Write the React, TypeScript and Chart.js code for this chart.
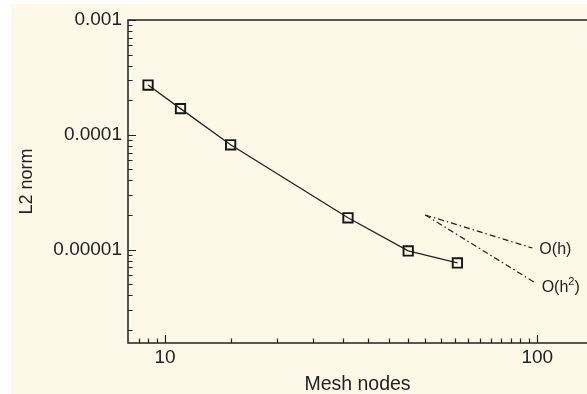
import { useEffect, useRef } from "react";
import { Chart, registerables } from "chart.js";

Chart.register(...registerables);

// Convergence study: L2 error against mesh node count
const meshNodes = [9, 11, 15, 31, 45, 61];
const l2Norm = [2.71e-4, 1.69e-4, 8.17e-5, 1.89e-5, 9.72e-6, 7.64e-6];

// Reference slopes
const orderOneX = [50, 97];
const orderOneY = [2.0e-5, 1.03e-5];
const orderTwoX = [50, 99];
const orderTwoY = [2.0e-5, 5.1e-6];
const slopeLabels = ["O(h)", "O(h", "2", ")"];

// Axis ticks
const xTickValues = [10, 100];
const xTickLabels = ["10", "100"];
const yTickValues = [1e-5, 1e-4, 1e-3];
const yTickLabels = ["0.00001", "0.0001", "0.001"];
const xMinorTicks = [8.5, 9, 9.5, 15, 20, 25, 30, 35, 40, 45, 50, 55, 60, 65, 70, 75, 80, 85, 90, 95];
const yMinorTicks = [
  2e-6, 3e-6, 4e-6, 5e-6, 6e-6, 7e-6, 8e-6, 9e-6,
  2e-5, 3e-5, 4e-5, 5e-5, 6e-5, 7e-5, 8e-5, 9e-5,
  2e-4, 3e-4, 4e-4, 5e-4, 6e-4, 7e-4, 8e-4, 9e-4,
];

const INK = "#222222";
const FONT = "'Liberation Sans', Arial, Helvetica, sans-serif";

const axisDecor = {
  id: "axisDecor",
  beforeDatasetsDraw(chart: any) {
    const { ctx, chartArea: a, scales } = chart;
    const x = scales.x;
    const y = scales.y;
    ctx.save();
    ctx.strokeStyle = INK;
    ctx.lineWidth = 1.5;
    ctx.beginPath();
    ctx.moveTo(a.right + 2, a.top);
    ctx.lineTo(a.left, a.top);
    ctx.lineTo(a.left, a.bottom);
    ctx.lineTo(a.right + 2, a.bottom);
    ctx.stroke();

    ctx.lineWidth = 1.2;
    ctx.beginPath();
    xTickValues.forEach((v) => {
      const px = Math.round(x.getPixelForValue(v)) + 0.5;
      ctx.moveTo(px, a.bottom);
      ctx.lineTo(px, a.bottom - 8);
    });
    xMinorTicks.forEach((v) => {
      const px = Math.round(x.getPixelForValue(v)) + 0.5;
      ctx.moveTo(px, a.bottom);
      ctx.lineTo(px, a.bottom - 4.5);
    });
    yTickValues.forEach((v) => {
      const py = Math.round(y.getPixelForValue(v)) + 0.5;
      ctx.moveTo(a.left, py);
      ctx.lineTo(a.left + 8, py);
    });
    yMinorTicks.forEach((v) => {
      const py = Math.round(y.getPixelForValue(v)) + 0.5;
      ctx.moveTo(a.left, py);
      ctx.lineTo(a.left + 4.5, py);
    });
    ctx.stroke();
    ctx.restore();
  },
  afterDatasetsDraw(chart: any) {
    const { ctx, scales } = chart;
    const x = scales.x;
    const y = scales.y;
    ctx.save();
    ctx.fillStyle = INK;
    ctx.textBaseline = "middle";
    ctx.textAlign = "left";
    const size = 16;
    ctx.font = `${size}px ${FONT}`;

    const p1x = x.getPixelForValue(orderOneX[1]);
    const p1y = y.getPixelForValue(orderOneY[1]);
    ctx.fillText(slopeLabels[0], p1x + 7, p1y + 2);

    const p2x = x.getPixelForValue(orderTwoX[1]);
    const p2y = y.getPixelForValue(orderTwoY[1]);
    let tx = p2x + 6;
    const ty = p2y + 5;
    ctx.fillText(slopeLabels[1], tx, ty);
    tx += ctx.measureText(slopeLabels[1]).width;
    ctx.font = `${Math.round(size * 0.7)}px ${FONT}`;
    ctx.fillText(slopeLabels[2], tx, ty - 6);
    tx += ctx.measureText(slopeLabels[2]).width;
    ctx.font = `${size}px ${FONT}`;
    ctx.fillText(slopeLabels[3], tx, ty);
    ctx.restore();
  },
};

export default function App() {
  const canvasRef = useRef<HTMLCanvasElement | null>(null);

  useEffect(() => {
    const canvas = canvasRef.current;
    if (!canvas) return;
    const dash = [6, 3, 1.5, 3];
    const chart = new Chart(canvas, {
      type: "scatter",
      data: {
        datasets: [
          {
            data: meshNodes.map((n, i) => ({ x: n, y: l2Norm[i] })),
            showLine: true,
            borderColor: INK,
            borderWidth: 1.3,
            pointStyle: "rect",
            pointRadius: 6.6,
            pointBorderWidth: 1.9,
            pointBorderColor: "#151515",
            pointBackgroundColor: "rgba(0,0,0,0)",
          },
          {
            data: orderOneX.map((n, i) => ({ x: n, y: orderOneY[i] })),
            showLine: true,
            borderColor: INK,
            borderWidth: 1.2,
            borderDash: dash,
            pointRadius: 0,
          },
          {
            data: orderTwoX.map((n, i) => ({ x: n, y: orderTwoY[i] })),
            showLine: true,
            borderColor: INK,
            borderWidth: 1.2,
            borderDash: dash,
            pointRadius: 0,
          },
        ],
      },
      options: {
        responsive: false,
        animation: false,
        devicePixelRatio: 1,
        layout: { autoPadding: false, padding: { top: 16, right: 0, left: 0, bottom: 0 } },
        plugins: {
          legend: { display: false },
          tooltip: { enabled: false },
        },
        scales: {
          x: {
            type: "logarithmic",
            position: "bottom",
            min: 7.95,
            max: 136,
            grid: { display: false, drawTicks: false },
            border: { display: false },
            afterBuildTicks: (scale: any) => {
              scale.ticks = xTickValues.map((v) => ({ value: v }));
            },
            afterFit: (scale: any) => {
              scale.height = 51;
              scale.paddingLeft = 0;
              scale.paddingRight = 0;
            },
            ticks: {
              autoSkip: false,
              maxRotation: 0,
              padding: 3,
              color: INK,
              font: { family: FONT, size: 19 },
              callback: (value: any) => xTickLabels[xTickValues.indexOf(Number(value))] ?? "",
            },
            title: {
              display: true,
              text: "Mesh nodes",
              color: INK,
              font: { family: FONT, size: 19.5, lineHeight: 1 },
              padding: { top: 0, bottom: 0 },
            },
          },
          y: {
            type: "logarithmic",
            min: 1.532e-6,
            max: 1e-3,
            grid: { display: false, drawTicks: false },
            border: { display: false },
            afterBuildTicks: (scale: any) => {
              scale.ticks = yTickValues.map((v) => ({ value: v }));
            },
            afterFit: (scale: any) => {
              scale.width = 117;
              scale.paddingTop = 0;
              scale.paddingBottom = 0;
            },
            ticks: {
              autoSkip: false,
              padding: 6,
              color: INK,
              font: { family: FONT, size: 19 },
              callback: (value: any) => yTickLabels[yTickValues.indexOf(Number(value))] ?? "",
            },
            title: {
              display: true,
              text: "L2 norm",
              color: INK,
              font: { family: FONT, size: 18, lineHeight: 1 },
              padding: { top: 7, bottom: 0 },
            },
          },
        },
      },
      plugins: [axisDecor],
    });
    return () => chart.destroy();
  }, []);

  return (
    <div
      style={{
        position: "absolute",
        left: 11,
        top: 4,
        width: 576,
        height: 390,
        background: "#fcf9e8",
        overflow: "hidden",
      }}
    >
      <canvas ref={canvasRef} width={576} height={390} style={{ display: "block" }} />
    </div>
  );
}
